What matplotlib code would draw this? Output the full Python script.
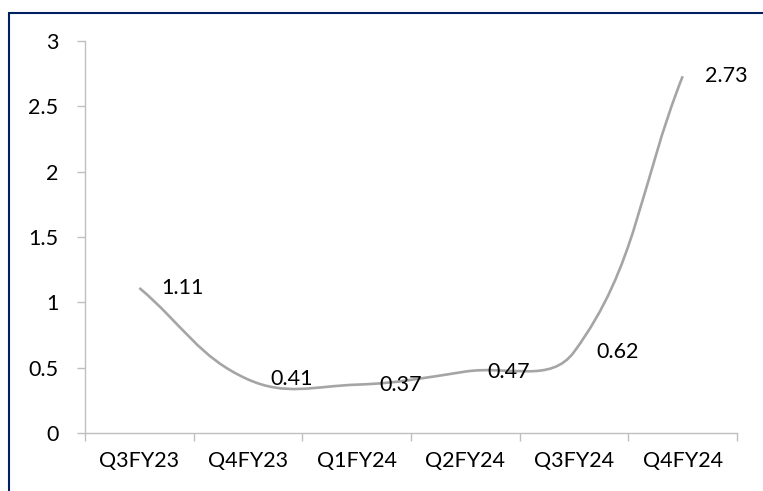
import matplotlib
matplotlib.use("Agg")
import matplotlib.pyplot as plt
from matplotlib.path import Path
from matplotlib.patches import PathPatch
import numpy as np

quarters = ["Q3FY23", "Q4FY23", "Q1FY24", "Q2FY24", "Q3FY24", "Q4FY24"]
values = [1.11, 0.41, 0.37, 0.47, 0.62, 2.73]


def smooth_path(xs, ys, kx, ky, f=0.4):
    # spreadsheet-style smoothed line: bezier segments whose control points
    # are scaled by segment lengths measured on screen (kx, ky = px per unit)
    P = np.column_stack([np.asarray(xs, float) * kx, np.asarray(ys, float) * ky])
    n = len(P)
    verts = [P[0]]
    codes = [Path.MOVETO]
    for i in range(n - 1):
        p0 = P[i - 1] if i > 0 else P[i]
        p1, p2 = P[i], P[i + 1]
        p3 = P[i + 2] if i + 2 < n else P[i + 1]
        d01 = np.hypot(*(p1 - p0))
        d12 = np.hypot(*(p2 - p1))
        d23 = np.hypot(*(p3 - p2))
        f1 = f * d12 / (d01 + d12)
        f2 = f * d12 / (d12 + d23)
        c1 = p1 + f1 * (p2 - p0)
        c2 = p2 - f2 * (p3 - p1)
        verts += [c1, c2, p2]
        codes += [Path.CURVE4] * 3
    verts = np.array(verts) / np.array([kx, ky])
    return Path(verts, codes)


plt.rcParams['font.family'] = ['Lato', 'DejaVu Sans']
fs = 15.5

fig = plt.figure(figsize=(7.63, 4.91), dpi=100)
W, H = 763, 491
ax = fig.add_axes([85 / W, 1 - 433 / H, (737 - 85) / W, (433 - 41) / H])

x = np.arange(len(quarters))
ax.set_xlim(-0.5, len(quarters) - 0.5)
ax.set_ylim(0, 3)

kx = (737 - 85) / len(quarters)
ky = (433 - 41) / 3.0
ax.add_patch(PathPatch(smooth_path(x, values, kx, ky), facecolor="none",
                       edgecolor="#A5A5A5", lw=1.9, capstyle="butt"))

for xi, v in zip(x, values):
    ax.annotate(f"{v:.2f}", (xi, v), xytext=(16, 0), textcoords="offset points",
                ha="left", va="center", fontsize=fs, color="black")

ax.set_yticks(np.arange(0, 3.01, 0.5))
ax.set_yticklabels(["0", "0.5", "1", "1.5", "2", "2.5", "3"])
ax.set_xticks(x)
ax.set_xticklabels(quarters)
ax.set_xticks(np.arange(-0.5, len(quarters), 1), minor=True)

for s in ["top", "right"]:
    ax.spines[s].set_visible(False)
for s in ["left", "bottom"]:
    ax.spines[s].set_color("#BFBFBF")
    ax.spines[s].set_linewidth(1.0)

ax.tick_params(axis="y", length=6, width=1, color="#BFBFBF", pad=13, labelsize=fs)
ax.tick_params(axis="x", which="major", length=0, pad=13, labelsize=fs)
ax.tick_params(axis="x", which="minor", length=6, width=1, color="#BFBFBF")

# dark blue frame around the chart area (cut off at right and bottom)
fig.add_artist(plt.Rectangle((8.5 / W, -0.05), 1.2, 1 - 13.5 / H + 0.05,
                             transform=fig.transFigure, fill=False,
                             edgecolor="#002060", lw=1.5))

fig.savefig("out.png", dpi=100)
